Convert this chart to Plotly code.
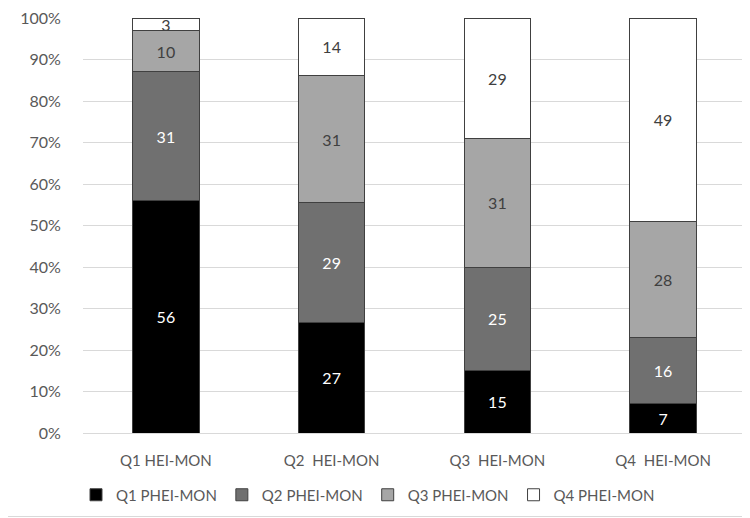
import plotly.graph_objects as go

# categories on the x axis (note the double space after Q2..Q4, as in the source)
categories = ["Q1 HEI-MON", "Q2  HEI-MON", "Q3  HEI-MON", "Q4  HEI-MON"]

# stacked series (share of each PHEI-MON quartile within each HEI-MON quartile)
q1_phei = [56, 27, 15, 7]
q2_phei = [31, 29, 25, 16]
q3_phei = [10, 31, 31, 28]
q4_phei = [3, 14, 29, 49]

series_names = ["Q1 PHEI-MON", "Q2 PHEI-MON", "Q3 PHEI-MON", "Q4 PHEI-MON"]
series_values = [q1_phei, q2_phei, q3_phei, q4_phei]
fill_colors = ["#000000", "#707070", "#a6a6a6", "#ffffff"]
text_colors = ["#ffffff", "#ffffff", "#404040", "#404040"]

FONT = "Lato, 'Open Sans', sans-serif"
W, H = 750, 518
# the page puts the figure 8px in from the top-left corner (default body margin),
# so the plot area is placed in page pixels and shifted back by that offset
OFF = 8
PLOT_LEFT, PLOT_RIGHT, PLOT_TOP, PLOT_BOTTOM = 83, 746, 18, 433
L = PLOT_LEFT - OFF
T = PLOT_TOP - OFF
R = W - (PLOT_RIGHT - OFF)
B = H - (PLOT_BOTTOM - OFF)
pw = W - L - R
ph = H - T - B

fig = go.Figure()
for name, vals, fill, tcol in zip(series_names, series_values, fill_colors, text_colors):
    fig.add_trace(go.Bar(
        name=name,
        x=categories,
        y=vals,
        text=vals,
        texttemplate="%{text}",
        textposition="inside",
        insidetextanchor="middle",
        textangle=0,
        textfont=dict(color=tcol, size=16, family=FONT),
        marker=dict(color=fill, line=dict(color="#404040", width=1)),
        width=0.4,
    ))

fig.update_layout(
    barmode="stack",
    barnorm="percent",
    width=W,
    height=H,
    margin=dict(l=L, r=R, t=T, b=B, autoexpand=False),
    paper_bgcolor="white",
    plot_bgcolor="white",
    font=dict(family=FONT, size=15, color="#595959"),
    uniformtext=dict(minsize=10, mode="show"),
    legend=dict(
        orientation="h",
        x=(368 - PLOT_LEFT) / pw, xanchor="center",
        y=(PLOT_BOTTOM - 495) / ph, yanchor="middle",
        font=dict(size=15, color="#595959"),
        itemwidth=30,
        traceorder="normal",
    ),
    xaxis=dict(
        automargin=False,
        showgrid=False,
        showline=False,
        ticks="outside",
        ticklen=14,
        tickcolor="rgba(0,0,0,0)",
        tickfont=dict(size=15, color="#595959"),
    ),
    yaxis=dict(
        automargin=False,
        range=[0, 100],
        dtick=10,
        ticksuffix="%",
        ticklabeloverflow="allow",
        showgrid=True,
        gridcolor="#d9d9d9",
        gridwidth=1,
        zeroline=True,
        zerolinecolor="#d9d9d9",
        zerolinewidth=1,
        ticks="outside",
        ticklen=18,
        tickcolor="rgba(0,0,0,0)",
        tickfont=dict(size=16, color="#595959"),
    ),
)

# light border along the right and bottom edges of the chart area
fig.add_shape(
    type="rect", xref="paper", yref="paper",
    x0=-(L + 5) / pw, x1=(W - OFF - 2.5 - L) / pw,
    y0=(ph + T - (H - OFF - 1.5)) / ph, y1=(ph + T + 5) / ph,
    line=dict(color="#d9d9d9", width=1),
    fillcolor="rgba(0,0,0,0)",
    layer="below",
)

fig.write_html("out.html")
